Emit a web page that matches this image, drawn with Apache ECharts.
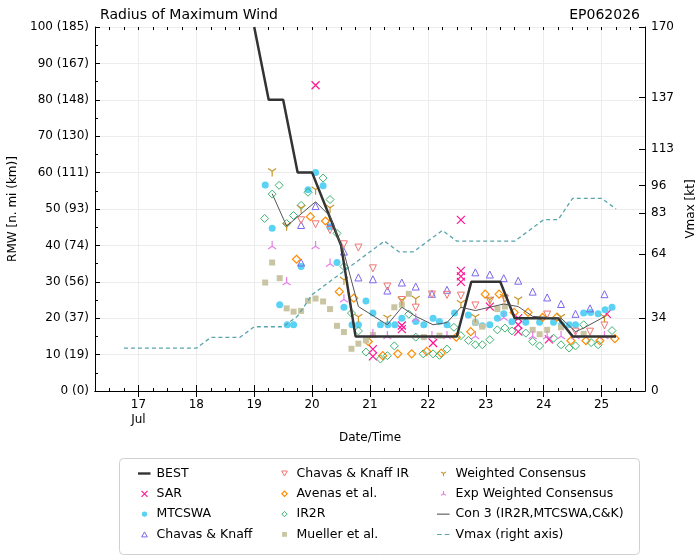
<!DOCTYPE html>
<html>
<head>
<meta charset="utf-8">
<script src="https://cdn.jsdelivr.net/npm/echarts@6/dist/echarts.min.js"></script>
<style>html,body{margin:0;background:#fff}#chart{width:700px;height:559px}</style>
</head>
<body>
<div id="chart"></div>
<script>
'use strict';

// times are July days (decimal), radii in n mi, vmax in kt
var bestTime = [19.0, 19.25, 19.5, 19.75, 20.0, 20.25, 20.5, 20.75, 21.0, 21.25, 21.5, 21.75, 22.0, 22.25, 22.5, 22.75, 23.0, 23.25, 23.5, 23.75, 24.0, 24.25, 24.5, 24.75, 25.0, 25.25];
var bestRmw = [100, 80, 80, 60, 60, 50, 40, 15, 15, 15, 15, 15, 15, 15, 15, 30, 30, 30, 20, 20, 20, 20, 15, 15, 15, 15];

var vmaxTime = [16.75, 17.0, 17.25, 17.5, 17.75, 18.0, 18.25, 18.5, 18.75, 19.0, 19.25, 19.5, 19.75, 20.0, 20.25, 20.5, 20.75, 21.0, 21.25, 21.5, 21.75, 22.0, 22.25, 22.5, 22.75, 23.0, 23.25, 23.5, 23.75, 24.0, 24.25, 24.5, 24.75, 25.0, 25.25];
var vmaxKt = [20, 20, 20, 20, 20, 20, 25, 25, 25, 30, 30, 30, 35, 45, 50, 55, 60, 65, 70, 65, 65, 70, 75, 70, 70, 70, 70, 70, 75, 80, 80, 90, 90, 90, 85];

var sarPts = [[20.06, 84], [21.05, 11.5], [21.05, 9.5], [21.55, 18], [21.55, 17], [22.09, 13.2], [22.57, 47], [22.57, 33], [22.57, 31.5], [22.57, 30], [23.07, 23.2], [23.56, 20], [23.56, 18.2], [23.56, 16.3], [24.09, 14.2], [25.09, 21.2]];

var mtcswaPts = [[19.19, 56.6], [19.31, 44.7], [19.44, 23.7], [19.57, 18.2], [19.68, 18.2], [19.81, 34.2], [19.93, 55.3], [20.06, 60], [20.19, 56.4], [20.31, 45.1], [20.43, 35.3], [20.55, 23], [20.69, 18.2], [20.8, 18.2], [20.93, 24.7], [21.05, 21.4], [21.18, 18.2], [21.31, 18.2], [21.43, 18.2], [21.55, 20], [21.79, 19.1], [21.93, 18.2], [22.09, 20], [22.2, 19.1], [22.33, 18.2], [22.46, 21.4], [22.7, 20.9], [22.82, 18.8], [22.94, 17.9], [23.07, 18.2], [23.2, 20], [23.31, 21.2], [23.45, 19], [23.69, 18.9], [23.93, 18.9], [24.17, 18.9], [24.31, 18.2], [24.44, 18.2], [24.55, 18.2], [24.69, 21.4], [24.81, 21.6], [24.94, 21.2], [25.06, 22.3], [25.18, 23]];

var ckPts = [[19.81, 45.6], [19.81, 35.3], [20.06, 50.8], [20.32, 46.5], [20.55, 38.3], [20.8, 31.2], [21.05, 30.7], [21.3, 27.6], [21.55, 29.8], [21.79, 28.7], [22.07, 26.7], [22.33, 27.8], [22.82, 32.6], [23.07, 32], [23.31, 31], [23.56, 30.3], [23.81, 27.3], [24.06, 25.7], [24.3, 23.9], [24.55, 21.2], [24.8, 22.7], [25.05, 26.6]];

var ckIrPts = [[19.81, 46.9], [20.06, 45.8], [20.31, 44.2], [20.55, 40.3], [20.8, 39.4], [21.05, 33.7], [21.3, 28.7], [21.55, 25], [21.79, 22.9], [22.07, 26.5], [22.33, 26.4], [22.57, 26.2], [22.82, 23.5], [23.07, 24.8], [23.33, 25.3], [24.06, 21], [24.55, 16.3], [24.8, 16.3], [25.05, 18]];

var avenasPts = [[19.73, 36.2], [19.97, 47.9], [20.23, 46.7], [20.47, 27.3], [20.72, 25.5], [20.97, 13.6], [21.22, 9.7], [21.48, 10.2], [21.72, 10.2], [21.98, 10.9], [22.23, 10.4], [22.49, 14.8], [22.74, 16.3], [22.99, 26.6], [23.23, 26.6], [23.49, 21.6], [23.73, 21.6], [23.98, 20.2], [24.23, 20.3], [24.47, 13.8], [24.73, 13.8], [24.97, 13.8], [25.23, 14.4]];

var ir2rPts = [[19.18, 47.4], [19.31, 54.1], [19.43, 56.5], [19.56, 46], [19.68, 48.2], [19.81, 51], [19.93, 54.6], [20.19, 58.5], [20.31, 52.6], [20.43, 43.3], [20.55, 34.2], [20.68, 21.4], [20.8, 16.5], [20.93, 10.7], [21.18, 8.8], [21.3, 9.7], [21.42, 12.4], [21.67, 21.1], [21.79, 14.8], [21.92, 10.2], [22.09, 10.2], [22.2, 9.8], [22.33, 11.5], [22.45, 17.5], [22.57, 15.2], [22.7, 13.9], [22.82, 12.7], [22.94, 12.7], [23.07, 14.1], [23.2, 16.8], [23.33, 17.3], [23.45, 16.5], [23.69, 15.9], [23.81, 13.6], [23.93, 12.4], [24.17, 14.5], [24.3, 12.7], [24.44, 11.8], [24.55, 12.4], [24.69, 18.2], [24.82, 13.3], [24.94, 12.7], [25.18, 16.6]];

var muellerPts = [[19.19, 29.8], [19.31, 35.3], [19.44, 31], [19.56, 22.7], [19.68, 21.8], [19.81, 22], [19.93, 24.8], [20.06, 25.4], [20.19, 24.6], [20.31, 22.5], [20.43, 17.9], [20.55, 16.2], [20.68, 11.6], [20.8, 13], [20.93, 13.9], [21.05, 15.4], [21.42, 23], [21.55, 23.7], [21.67, 26.7], [21.93, 14.8], [22.2, 15.2], [22.82, 18.8], [22.94, 17.7], [23.2, 22.5], [23.33, 23.2], [23.81, 16.8], [23.93, 15.6], [24.06, 16.8], [24.3, 17.5], [24.69, 15.7]];

var wcPts = [[19.31, 60], [19.56, 45.1], [19.81, 49.9], [20.06, 55], [20.31, 50], [20.55, 30.2], [20.8, 20], [21.3, 19.8], [21.55, 24.6], [21.79, 25], [22.57, 23.8], [22.82, 20], [23.07, 24.8], [23.31, 25.5], [23.56, 24.8], [24.3, 20], [25.05, 20]];

var expWcPts = [[19.31, 40.1], [19.56, 30.2], [20.06, 40.1], [20.31, 35.3], [20.55, 25.5], [21.05, 15.9], [21.3, 15.4], [21.79, 20.2], [22.07, 15.4], [22.33, 15.4], [22.82, 15.4], [23.31, 20.5], [23.81, 15.4], [24.06, 15.4], [24.3, 15.4], [24.55, 15.4], [25.05, 15.4]];

var con3Pts = [[19.31, 54.2], [19.56, 45.3], [20.06, 52], [20.31, 48], [20.55, 38], [20.8, 23.2], [21.3, 18.2], [21.55, 23], [21.79, 20.5], [22.09, 18.2], [22.33, 18.8], [22.57, 23], [22.82, 22.1], [23.31, 23.9], [23.56, 23.2], [23.81, 20.5], [24.3, 20], [24.55, 16.3], [24.69, 17.3], [25.06, 20.5]];

var dayTicks = [17, 18, 19, 20, 21, 22, 23, 24, 25];
var vmaxTicks = [0, 34, 64, 83, 96, 113, 137, 170];

var FONT = 'DejaVu Sans';
var C = {
    best: '#333333', sar: '#ff1493', mtc: '#5ad2f4', ck: '#7b68ee', ckir: '#f07575',
    avenas: '#ff8c00', ir2r: '#3cb371', mueller: '#c9c5a2', wc: '#c8962a', ewc: '#e67ee6',
    con3: '#555555', vmax: '#5aa5ad'
};

var symX = 'path://M0,0L10,10M0,10L10,0';
var symTriDown = 'path://M5,5L5,10M5,5L0.67,2.5M5,5L9.33,2.5';
var symTriUp = 'path://M5,5L5,0M5,5L0.67,7.5M5,5L9.33,7.5';

// legend icons live in a 14x7 box (corner stubs pin the box size)
var BOX = 'M0,0L0,0M14,7L14,7';
function icon(p) { return 'path://' + BOX + p; }

function zip(t, v) {
    return t.map(function (x, i) { return [x, v[i]]; });
}

function scatter(name, pts, symbol, size, fill, stroke, bw) {
    return {
        name: name,
        type: 'scatter',
        data: pts,
        symbol: symbol,
        symbolSize: size,
        itemStyle: { color: fill, borderColor: stroke, borderWidth: bw, opacity: 1 },
        silent: true
    };
}

function legItem(name, path, fill, stroke, bw) {
    return {
        name: name,
        icon: icon(path),
        itemStyle: { color: fill, borderColor: stroke, borderWidth: bw, opacity: 1 }
    };
}

var chart = echarts.init(document.getElementById('chart'));

var xBase = { type: 'value', min: 16.25, max: 25.75, splitLine: { show: false } };
var blackLine = { show: true, lineStyle: { color: '#000', width: 1 } };

var legendCommon = {
    orient: 'vertical',
    top: 462,
    itemGap: 7.3,
    itemWidth: 14,
    itemHeight: 7,
    selectedMode: false,
    textStyle: { fontSize: 12.5, color: '#000', fontFamily: FONT, lineHeight: 12 }
};

var option = {
    animation: false,
    backgroundColor: '#fff',
    textStyle: { fontFamily: FONT },
    title: [
        { text: 'Radius of Maximum Wind', left: 95, top: 3, textStyle: { fontSize: 14, fontWeight: 'normal', color: '#000', fontFamily: FONT } },
        { text: 'EP062026', right: 55, top: 3, textStyle: { fontSize: 14, fontWeight: 'normal', color: '#000', fontFamily: FONT } }
    ],
    grid: { left: 95, right: 55, top: 27, bottom: 168, outerBoundsMode: 'none' },
    xAxis: [
        Object.assign({}, xBase, {
            position: 'bottom',
            axisLine: blackLine,
            axisTick: { show: true, inside: true, length: 6, customValues: dayTicks, lineStyle: { color: '#000' } },
            axisLabel: {
                customValues: dayTicks, color: '#000', fontSize: 12, lineHeight: 15, margin: 6,
                formatter: function (v) { return v === 17 ? '17\nJul' : String(v); }
            },
            splitLine: { show: true, lineStyle: { color: '#ececec' } },
            name: 'Date/Time', nameLocation: 'middle', nameGap: 38,
            nameTextStyle: { fontSize: 12, color: '#000' }
        }),
        Object.assign({}, xBase, {
            position: 'top',
            axisLine: blackLine,
            axisTick: { show: true, inside: true, length: 6, customValues: dayTicks, lineStyle: { color: '#000' } },
            axisLabel: { show: false }
        }),
        Object.assign({}, xBase, {
            position: 'bottom', interval: 0.25,
            axisLine: { show: false },
            axisTick: { show: true, inside: true, length: 3, lineStyle: { color: '#000' } },
            axisLabel: { show: false }
        }),
        Object.assign({}, xBase, {
            position: 'top', interval: 0.25,
            axisLine: { show: false },
            axisTick: { show: true, inside: true, length: 3, lineStyle: { color: '#000' } },
            axisLabel: { show: false }
        })
    ],
    yAxis: [
        {
            type: 'value', min: 0, max: 100, interval: 10, position: 'left',
            axisLine: blackLine,
            axisTick: { show: true, inside: true, length: 5, lineStyle: { color: '#000' } },
            minorTick: { show: true, splitNumber: 2, length: 3, lineStyle: { color: '#000' } },
            axisLabel: {
                color: '#000', fontSize: 12, margin: 6,
                formatter: function (v) { return v + ' (' + Math.round(v * 1.852) + ')'; }
            },
            splitLine: { show: true, lineStyle: { color: '#ececec' } },
            name: 'RMW [n. mi (km)]', nameLocation: 'middle', nameGap: 75, nameRotate: 90,
            nameTextStyle: { fontSize: 12, color: '#000' }
        },
        {
            type: 'value', min: 0, max: 170, position: 'right',
            axisLine: blackLine,
            axisTick: { show: true, inside: true, length: 6, customValues: vmaxTicks, lineStyle: { color: '#000' } },
            axisLabel: { customValues: vmaxTicks, color: '#000', fontSize: 12, margin: 6 },
            splitLine: { show: false },
            name: 'Vmax [kt]', nameLocation: 'middle', nameGap: 36, nameRotate: 90,
            nameTextStyle: { fontSize: 12, color: '#000' }
        }
    ],
    legend: [
        Object.assign({}, legendCommon, {
            left: 130,
            data: [
                legItem('BEST', 'M0.5,2.3H13V4.7H0.5Z', C.best, C.best, 0),
                legItem('SAR', 'M4,0.5L10,6.5M4,6.5L10,0.5', 'none', C.sar, 1.1),
                legItem('MTCSWA', 'M4.3,3.5A2.7,2.7 0 1 1 9.7,3.5A2.7,2.7 0 1 1 4.3,3.5Z', C.mtc, C.mtc, 0),
                legItem('Chavas & Knaff', 'M7,1L9.8,6L4.2,6Z', 'none', C.ck, 1)
            ]
        }),
        Object.assign({}, legendCommon, {
            left: 270,
            data: [
                legItem('Chavas & Knaff IR', 'M4.2,1L9.8,1L7,6Z', 'none', C.ckir, 1),
                legItem('Avenas et al.', 'M7,0.8L9.7,3.5L7,6.2L4.3,3.5Z', 'none', C.avenas, 1.2),
                legItem('IR2R', 'M7,0.8L9.7,3.5L7,6.2L4.3,3.5Z', 'none', C.ir2r, 1),
                legItem('Mueller et al.', 'M4.6,1.1H9.4V5.9H4.6Z', C.mueller, C.mueller, 0)
            ]
        }),
        Object.assign({}, legendCommon, {
            left: 429,
            data: [
                legItem('Weighted Consensus', 'M7,3.5L7,6.3M7,3.5L4.6,2.1M7,3.5L9.4,2.1', 'none', C.wc, 1.1),
                legItem('Exp Weighted Consensus', 'M7,3.5L7,0.7M7,3.5L4.6,4.9M7,3.5L9.4,4.9', 'none', C.ewc, 1.1),
                legItem('Con 3 (IR2R,MTCSWA,C&K)', 'M0.5,3H13V4.1H0.5Z', C.con3, C.con3, 0),
                legItem('Vmax (right axis)', 'M0.5,3H5.3V4.2H0.5ZM8.2,3H13V4.2H8.2Z', C.vmax, C.vmax, 0)
            ]
        })
    ],
    graphic: [{
        type: 'rect', left: 117, top: 456, z: -1,
        shape: { width: 520, height: 96, r: 4 },
        style: { fill: 'none', stroke: '#d0d0d0', lineWidth: 1 }
    }],
    series: [
        {
            name: 'Vmax (right axis)', type: 'line', yAxisIndex: 1, data: zip(vmaxTime, vmaxKt),
            symbol: 'none', lineStyle: { color: C.vmax, width: 1.3, type: [4, 3] },
            itemStyle: { color: C.vmax }, silent: true
        },
        {
            name: 'BEST', type: 'line', data: zip(bestTime, bestRmw),
            symbol: 'none', lineStyle: { color: C.best, width: 2.5 },
            itemStyle: { color: C.best }, silent: true
        },
        scatter('SAR', sarPts, symX, 8, C.sar, C.sar, 1.2),
        scatter('MTCSWA', mtcswaPts, 'circle', 7, C.mtc, C.mtc, 0),
        scatter('Chavas & Knaff', ckPts, 'triangle', 7, 'none', C.ck, 1),
        scatter('Chavas & Knaff IR', ckIrPts, 'path://M0,0L10,0L5,9Z', 7, 'none', C.ckir, 1),
        scatter('Avenas et al.', avenasPts, 'diamond', 8, 'none', C.avenas, 1.2),
        scatter('IR2R', ir2rPts, 'diamond', 8, 'none', C.ir2r, 1),
        scatter('Mueller et al.', muellerPts, 'rect', 6, C.mueller, C.mueller, 0),
        scatter('Weighted Consensus', wcPts, symTriDown, 8, C.wc, C.wc, 1.2),
        scatter('Exp Weighted Consensus', expWcPts, symTriUp, 8, C.ewc, C.ewc, 1.2),
        {
            name: 'Con 3 (IR2R,MTCSWA,C&K)', type: 'line', data: con3Pts,
            symbol: 'none', lineStyle: { color: C.con3, width: 1 },
            itemStyle: { color: C.con3 }, silent: true
        }
    ]
};

chart.setOption(option);
</script>
</body>
</html>
